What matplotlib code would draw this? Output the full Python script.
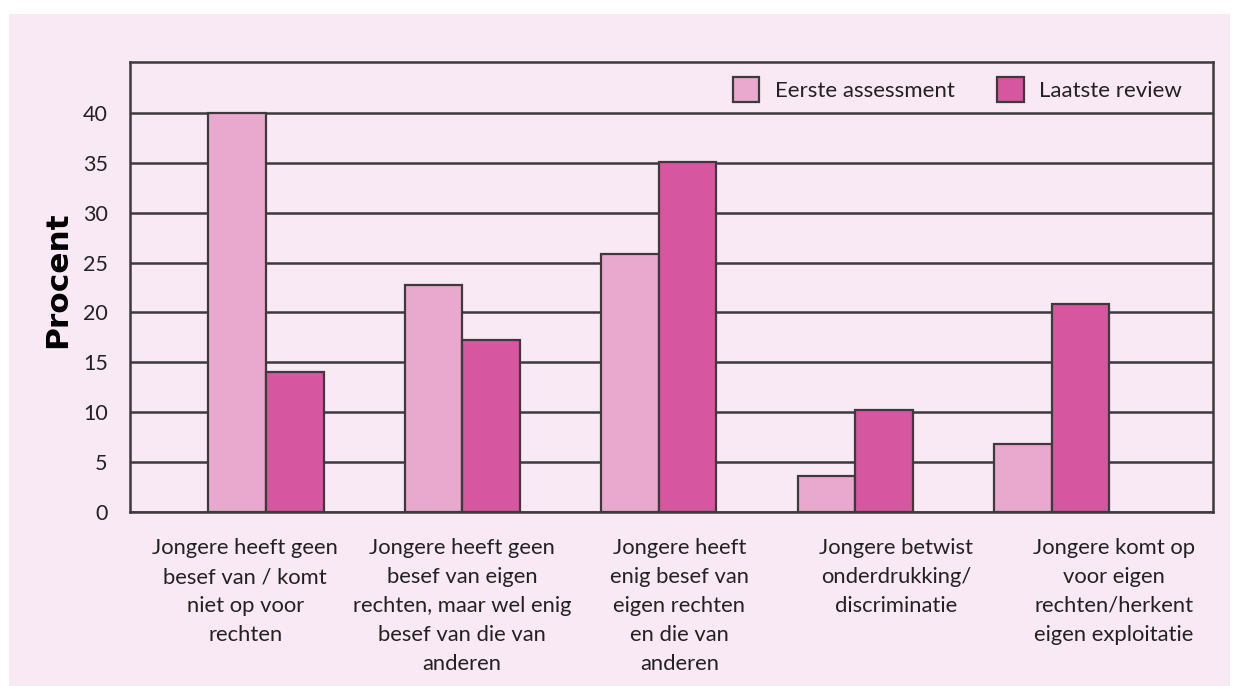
import matplotlib
matplotlib.use("Agg")
import matplotlib.pyplot as plt
import numpy as np
from matplotlib.patches import Rectangle

categories = [
    "Jongere heeft geen\nbesef van / komt\nniet op voor\nrechten",
    "Jongere heeft geen\nbesef van eigen\nrechten, maar wel enig\nbesef van die van\nanderen",
    "Jongere heeft\nenig besef van\neigen rechten\nen die van\nanderen",
    "Jongere betwist\nonderdrukking/\ndiscriminatie",
    "Jongere komt op\nvoor eigen\nrechten/herkent\neigen exploitatie",
]
eerste = [40.0, 22.8, 25.9, 3.6, 6.8]
laatste = [14.0, 17.2, 35.1, 10.2, 20.8]
series_names = ["Eerste assessment", "Laatste review"]
yticks = [0, 5, 10, 15, 20, 25, 30, 35, 40]

BG = "#f9e9f4"
LIGHT = "#e9a9cf"
DARK = "#d6579f"
LINE = "#3d3a3c"
FONT = ["Lato", "DejaVu Sans"]

W, H = 1233, 686
fig = plt.figure(figsize=(W / 100, H / 100), dpi=100, facecolor="white")
# pink panel behind the chart, white strip on top/sides like the scan
fig.patches.append(Rectangle((9 / W, 0), (1230 - 9) / W, (686 - 14) / H,
                             transform=fig.transFigure, facecolor=BG,
                             edgecolor="none", zorder=-10))

ax = fig.add_axes([130 / W, 1 - 512 / H, (1213 - 130) / W, (512 - 62) / H])
ax.set_facecolor(BG)

x = np.arange(len(categories))
w = 0.293
ax.bar(x - w / 2, eerste, w, color=LIGHT, edgecolor=LINE, linewidth=1.6,
       label=series_names[0], zorder=3)
ax.bar(x + w / 2, laatste, w, color=DARK, edgecolor=LINE, linewidth=1.6,
       label=series_names[1], zorder=3)

ax.set_xlim(-0.692, 4.82)
ax.set_ylim(0, 45.1)
ax.set_yticks(yticks)
ax.set_yticklabels([str(t) for t in yticks], family=FONT, fontsize=15.5,
                   color="#222222")
# the category texts sit a bit wider apart than the bar groups in the original
ax.set_xticks(x * 1.105 - 0.106)
ax.set_xticklabels(categories, family=FONT, fontsize=15.8, color="#222222",
                   linespacing=1.55, va="top")
ax.tick_params(axis="both", length=0)
ax.tick_params(axis="y", pad=16)
ax.tick_params(axis="x", pad=19)
ax.yaxis.grid(True, color=LINE, linewidth=1.8, zorder=1)
ax.set_axisbelow(True)
for s in ax.spines.values():
    s.set_color(LINE)
    s.set_linewidth(1.8)

ax.set_ylabel("Procent", fontsize=22.5, fontweight="bold", family="DejaVu Sans",
              color="black")
ax.yaxis.set_label_coords(-0.053, 0.516)

leg = ax.legend(loc="upper right", ncol=2, frameon=False,
                prop={"family": FONT, "size": 16},
                handlelength=1.2, handleheight=1.3, handletextpad=0.7,
                columnspacing=1.9, bbox_to_anchor=(0.99, 1.01))
for t in leg.get_texts():
    t.set_color("#222222")

fig.savefig("out.png", dpi=100, facecolor="white")
